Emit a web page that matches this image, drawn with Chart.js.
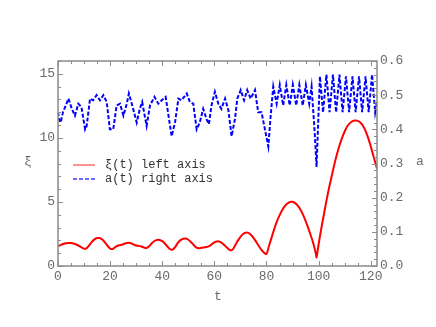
<!DOCTYPE html>
<html>
<head>
<meta charset="utf-8">
<script src="https://cdn.jsdelivr.net/npm/chart.js@4"></script>
<style>
  html, body { margin: 0; padding: 0; background: #fff; }
  canvas { display: block; }
</style>
</head>
<body>
<canvas id="myChart" width="436" height="327"></canvas>
<script>
// xi(t) (left axis)
const xiT = [0,1,2,3,4,5,6,7,8,9,10,11,12,13,14,15,16,17,18,19,20,21,22,23,24,25,26,27,28,29,
  30,31,32,33,34,35,36,37,38,39,40,41,42,43,44,45,46,47,48,49,50,51,52,53,54,55,56,57,58,59,
  60,61,62,63,64,65,66,67,68,69,70,71,72,73,74,75,76,77,78,79,80,81,82,83,84,85,86,87,88,89,
  90,91,92,93,94,95,96,97,98,99,99.2,100,101,102,103,104,105,106,107,108,109,110,111,112,113,114,
  115,116,117,118,119,120,121,122,122.4];
const xiVals = [1.55,1.63,1.72,1.78,1.80,1.79,1.75,1.68,1.58,1.46,1.35,1.40,1.62,1.88,2.08,2.18,2.18,2.06,1.84,1.58,
  1.36,1.33,1.48,1.60,1.64,1.70,1.78,1.82,1.78,1.68,1.60,1.57,1.52,1.44,1.40,1.55,1.78,1.95,2.03,2.03,
  1.94,1.76,1.52,1.32,1.28,1.50,1.80,2.02,2.13,2.14,2.05,1.88,1.66,1.45,1.38,1.42,1.45,1.48,1.55,1.70,
  1.85,1.92,1.90,1.78,1.60,1.40,1.24,1.28,1.62,1.98,2.28,2.50,2.60,2.58,2.44,2.20,1.90,1.58,1.28,1.05,
  0.94,1.60,2.25,2.90,3.48,3.95,4.35,4.67,4.88,5.00,5.01,4.91,4.71,4.41,4.01,3.53,2.98,2.38,1.73,0.90,
  0.68,1.70,2.90,4.00,5.10,6.10,7.00,7.90,8.70,9.40,10.00,10.50,10.90,11.15,11.30,11.35,
  11.33,11.20,10.95,10.55,10.00,9.35,8.60,7.90,7.60];

// a(t) (right axis)
const aT = [0,0.4,1,1.9,3,4,5.3,6.5,7.8,9,10.4,11,12.3,13.5,14.8,16.1,17.4,18.7,19.9,21.2,
  22.5,23.8,25.1,26.4,27.2,28.5,30.2,31.4,32.3,34,35.3,37,38.5,39.8,41.3,42.4,43.6,44.9,46.2,47.4,
  49.4,50.6,51.9,53.2,54.4,55.7,57,57.9,58.9,60.2,61.5,62.7,64.1,65.4,66.6,67.9,68.8,70.1,71.4,72.6,
  73.9,75.6,76.8,78.1,79.4,80.7,81.6,82.6,83.9,85.1,86.4,87.6,88.9,90.1,91.4,92.6,93.9,95.1,96.4,97.3,
  98.5,99.2,100.5,101.7,103,104.2,105.5,106.7,108,109.2,110.5,111.7,113,114.2,115.5,116.7,118,119.2,120.5,121.7,122.4];
const aVals = [0.45,0.43,0.42,0.45,0.47,0.49,0.46,0.44,0.475,0.465,0.40,0.41,0.49,0.485,0.50,0.485,0.50,0.48,0.40,0.40,
  0.47,0.475,0.44,0.475,0.505,0.47,0.42,0.46,0.48,0.41,0.47,0.495,0.475,0.485,0.495,0.44,0.38,0.42,0.49,0.485,
  0.505,0.48,0.475,0.40,0.42,0.46,0.43,0.415,0.47,0.51,0.475,0.46,0.49,0.455,0.38,0.43,0.49,0.515,0.485,0.515,
  0.49,0.515,0.45,0.45,0.40,0.35,0.44,0.525,0.475,0.53,0.47,0.53,0.47,0.53,0.47,0.53,0.47,0.53,0.475,0.525,
  0.39,0.29,0.555,0.45,0.56,0.45,0.56,0.45,0.56,0.45,0.555,0.45,0.555,0.45,0.555,0.45,0.555,0.45,0.56,0.45,0.48];

const xTicks = [0, 20, 40, 60, 80, 100, 120];
const leftTicks = [0, 5, 10, 15];
const rightTicks = [0, 0.1, 0.2, 0.3, 0.4, 0.5, 0.6];

const monoFont = "'Liberation Mono', 'DejaVu Sans Mono', monospace";
const tickGray = '#6b6b6b';

// frame, inward tick marks, axis titles and the inset legend
const framePlugin = {
  id: 'frame',
  afterDatasetsDraw(chart) {
    const { ctx, chartArea: a, scales } = chart;
    const x = scales.x, yl = scales.y, yr = scales.y1;
    ctx.save();
    ctx.strokeStyle = '#8a8a8a';
    ctx.lineWidth = 1.5;
    ctx.strokeRect(a.left, a.top, a.right - a.left, a.bottom - a.top);

    ctx.lineWidth = 1;
    ctx.beginPath();
    for (let v = 0; v <= 122; v += 5) {
      const px = Math.round(x.getPixelForValue(v)) + 0.5;
      const len = v % 20 === 0 ? 5 : 3;
      ctx.moveTo(px, a.bottom); ctx.lineTo(px, a.bottom - len);
      ctx.moveTo(px, a.top); ctx.lineTo(px, a.top + len);
    }
    for (let v = 0; v <= 16; v += 1) {
      const py = Math.round(yl.getPixelForValue(v)) + 0.5;
      const len = v % 5 === 0 ? 5 : 3;
      ctx.moveTo(a.left, py); ctx.lineTo(a.left + len, py);
    }
    for (let i = 0; i <= 30; i++) {
      const py = Math.round(yr.getPixelForValue(i * 0.02)) + 0.5;
      const len = i % 5 === 0 ? 5 : 3;
      ctx.moveTo(a.right, py); ctx.lineTo(a.right - len, py);
    }
    ctx.stroke();

    // axis titles
    ctx.fillStyle = tickGray;
    ctx.font = '13px ' + monoFont;
    ctx.textAlign = 'center';
    ctx.textBaseline = 'middle';
    ctx.fillText('t', 218, 297);
    ctx.fillText('ξ', 28, 162);
    ctx.fillText('a', 420, 162);

    // legend
    ctx.lineWidth = 1.5;
    ctx.strokeStyle = '#ff6b6b';
    ctx.setLineDash([]);
    ctx.beginPath(); ctx.moveTo(73, 165); ctx.lineTo(95, 165); ctx.stroke();
    ctx.strokeStyle = '#6b6bff';
    ctx.lineWidth = 2;
    ctx.setLineDash([4, 2]);
    ctx.beginPath(); ctx.moveTo(73, 179); ctx.lineTo(95, 179); ctx.stroke();
    ctx.setLineDash([]);
    ctx.fillStyle = '#333';
    ctx.font = '12px ' + monoFont;
    ctx.textAlign = 'left';
    ctx.fillText('ξ(t) left axis', 105, 165);
    ctx.fillText('a(t) right axis', 105, 179);
    ctx.restore();
  }
};

const ctx = document.getElementById('myChart').getContext('2d');
const myChart = new Chart(ctx, {
  type: 'line',
  data: {
    datasets: [{
      label: 'ξ(t) left axis',
      data: xiT.map((t, i) => ({ x: t, y: xiVals[i] })),
      yAxisID: 'y',
      borderColor: 'rgb(255,0,0)',
      borderWidth: 2,
      pointRadius: 0,
      tension: 0.3
    }, {
      label: 'a(t) right axis',
      data: aT.map((t, i) => ({ x: t, y: aVals[i] })),
      yAxisID: 'y1',
      borderColor: 'rgb(0,0,255)',
      borderWidth: 2,
      borderDash: [4, 2],
      pointRadius: 0,
      tension: 0
    }]
  },
  options: {
    responsive: false,
    animation: false,
    devicePixelRatio: 1,
    layout: { padding: { top: 61, left: 0, right: 0, bottom: 0 } },
    plugins: { legend: { display: false }, tooltip: { enabled: false } },
    scales: {
      x: {
        type: 'linear', min: 0, max: 122.4,
        grid: { display: false, drawTicks: false }, border: { display: false },
        ticks: { color: tickGray, font: { family: monoFont, size: 13 }, padding: 3, maxRotation: 0 },
        afterBuildTicks: s => { s.ticks = xTicks.map(v => ({ value: v })); },
        afterFit: s => { s.height = 61; }
      },
      y: {
        position: 'left', min: 0, max: 16,
        grid: { display: false, drawTicks: false }, border: { display: false },
        ticks: { color: tickGray, font: { family: monoFont, size: 13 }, padding: 3 },
        afterBuildTicks: s => { s.ticks = leftTicks.map(v => ({ value: v })); },
        afterFit: s => { s.width = 58; }
      },
      y1: {
        position: 'right', min: 0, max: 0.6,
        grid: { display: false, drawTicks: false }, border: { display: false },
        ticks: { color: tickGray, font: { family: monoFont, size: 13 }, padding: 3,
          callback: v => v.toFixed(1) },
        afterBuildTicks: s => { s.ticks = rightTicks.map(v => ({ value: v })); },
        afterFit: s => { s.width = 59; }
      }
    }
  },
  plugins: [framePlugin]
});
</script>
</body>
</html>
